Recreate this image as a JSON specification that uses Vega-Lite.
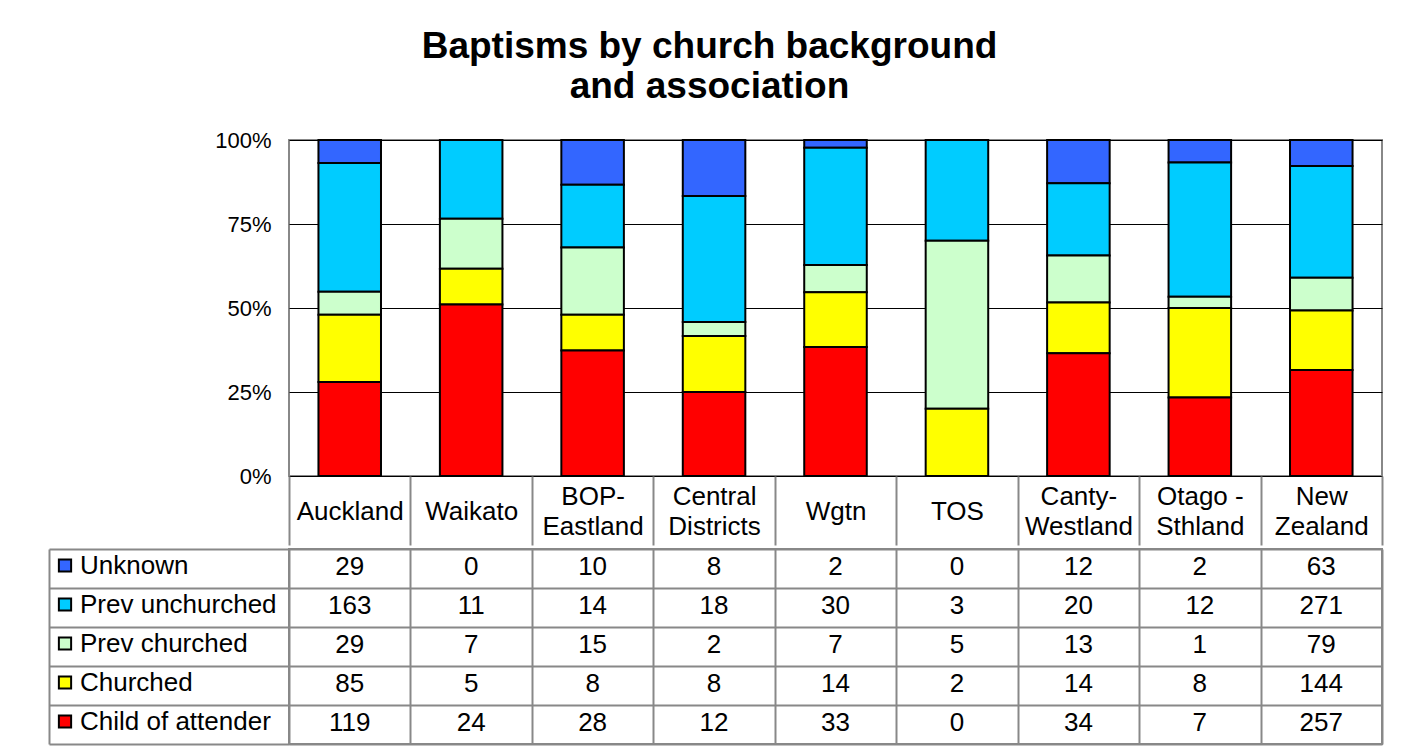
{
  "$schema": "https://vega.github.io/schema/vega-lite/v6.json",
  "padding": {"top": 28, "left": 47, "right": 30, "bottom": 8},
  "background": "white",
  "spacing": 0,
  "config": {
    "font": "Liberation Sans",
    "view": {"stroke": "#888888", "strokeWidth": 2}
  },
  "title": {
    "text": ["Baptisms by church background", "and association"],
    "fontSize": 37,
    "fontWeight": "bold",
    "lineHeight": 40,
    "anchor": "middle",
    "color": "black",
    "offset": 22,
    "dx": -6
  },
  "datasets": {
    "baptisms": [
      {"region": "Auckland", "series": "Unknown", "count": 29},
      {"region": "Auckland", "series": "Prev unchurched", "count": 163},
      {"region": "Auckland", "series": "Prev churched", "count": 29},
      {"region": "Auckland", "series": "Churched", "count": 85},
      {"region": "Auckland", "series": "Child of attender", "count": 119},
      {"region": "Waikato", "series": "Unknown", "count": 0},
      {"region": "Waikato", "series": "Prev unchurched", "count": 11},
      {"region": "Waikato", "series": "Prev churched", "count": 7},
      {"region": "Waikato", "series": "Churched", "count": 5},
      {"region": "Waikato", "series": "Child of attender", "count": 24},
      {"region": "BOP-Eastland", "series": "Unknown", "count": 10},
      {"region": "BOP-Eastland", "series": "Prev unchurched", "count": 14},
      {"region": "BOP-Eastland", "series": "Prev churched", "count": 15},
      {"region": "BOP-Eastland", "series": "Churched", "count": 8},
      {"region": "BOP-Eastland", "series": "Child of attender", "count": 28},
      {"region": "Central Districts", "series": "Unknown", "count": 8},
      {"region": "Central Districts", "series": "Prev unchurched", "count": 18},
      {"region": "Central Districts", "series": "Prev churched", "count": 2},
      {"region": "Central Districts", "series": "Churched", "count": 8},
      {"region": "Central Districts", "series": "Child of attender", "count": 12},
      {"region": "Wgtn", "series": "Unknown", "count": 2},
      {"region": "Wgtn", "series": "Prev unchurched", "count": 30},
      {"region": "Wgtn", "series": "Prev churched", "count": 7},
      {"region": "Wgtn", "series": "Churched", "count": 14},
      {"region": "Wgtn", "series": "Child of attender", "count": 33},
      {"region": "TOS", "series": "Unknown", "count": 0},
      {"region": "TOS", "series": "Prev unchurched", "count": 3},
      {"region": "TOS", "series": "Prev churched", "count": 5},
      {"region": "TOS", "series": "Churched", "count": 2},
      {"region": "TOS", "series": "Child of attender", "count": 0},
      {"region": "Canty-Westland", "series": "Unknown", "count": 12},
      {"region": "Canty-Westland", "series": "Prev unchurched", "count": 20},
      {"region": "Canty-Westland", "series": "Prev churched", "count": 13},
      {"region": "Canty-Westland", "series": "Churched", "count": 14},
      {"region": "Canty-Westland", "series": "Child of attender", "count": 34},
      {"region": "Otago - Sthland", "series": "Unknown", "count": 2},
      {"region": "Otago - Sthland", "series": "Prev unchurched", "count": 12},
      {"region": "Otago - Sthland", "series": "Prev churched", "count": 1},
      {"region": "Otago - Sthland", "series": "Churched", "count": 8},
      {"region": "Otago - Sthland", "series": "Child of attender", "count": 7},
      {"region": "New Zealand", "series": "Unknown", "count": 63},
      {"region": "New Zealand", "series": "Prev unchurched", "count": 271},
      {"region": "New Zealand", "series": "Prev churched", "count": 79},
      {"region": "New Zealand", "series": "Churched", "count": 144},
      {"region": "New Zealand", "series": "Child of attender", "count": 257}
    ]
  },
  "vconcat": [
    {
      "width": 1093,
      "height": 336,
      "data": {"name": "baptisms"},
      "mark": {"type": "bar", "stroke": "black", "strokeWidth": 2, "width": {"band": 0.515}},
      "encoding": {
        "x": {
          "field": "region",
          "type": "nominal",
          "sort": ["Auckland", "Waikato", "BOP-Eastland", "Central Districts", "Wgtn", "TOS", "Canty-Westland", "Otago - Sthland", "New Zealand"],
          "scale": {"paddingInner": 0, "paddingOuter": 0},
          "axis": {
            "title": null,
            "orient": "bottom",
            "domain": false,
            "ticks": true,
            "tickBand": "extent",
            "tickSize": 69,
            "tickColor": "#888888",
            "tickWidth": 2,
            "labelAngle": 0,
            "labelFontSize": 26,
            "labelColor": "black",
            "labelBaseline": "middle",
            "labelLineHeight": 30,
            "labelPadding": {"condition": {"test": "test(/[- ]/, datum.value)", "value": -49}, "value": -34},
            "labelOverlap": false,
            "labelBound": false,
            "labelLimit": 0,
            "labelExpr": "split(replace(replace(datum.label, /(-) ?/, '$1|'), / (?=[A-Z])/, '|'), '|')"
          }
        },
        "y": {
          "field": "count",
          "type": "quantitative",
          "stack": "normalize",
          "scale": {"domain": [0, 1], "nice": false},
          "axis": {
            "title": null,
            "values": [0, 0.25, 0.5, 0.75, 1],
            "format": ".0%",
            "labelFontSize": 22,
            "labelColor": "black",
            "ticks": false,
            "labelPadding": 18,
            "domain": false,
            "grid": true,
            "gridColor": "black",
            "gridWidth": 1
          }
        },
        "color": {
          "field": "series",
          "type": "nominal",
          "scale": {
            "domain": ["Unknown", "Prev unchurched", "Prev churched", "Churched", "Child of attender"],
            "range": ["#3366FF", "#00CCFF", "#CCFFCC", "#FFFF00", "#FF0000"]
          },
          "legend": {
            "title": null,
            "orient": "none",
            "legendX": -237,
            "legendY": 406,
            "symbolType": "square",
            "symbolSize": 150,
            "symbolStrokeColor": "black",
            "symbolStrokeWidth": 2,
            "symbolOpacity": 1,
            "labelFontSize": 26,
            "labelColor": "black",
            "labelOffset": 2,
            "labelLimit": 0,
            "rowPadding": 0,
            "clipHeight": 39,
            "padding": 0
          }
        },
        "order": {"field": "series", "sort": "ascending"}
      }
    },
    {
      "width": 1093,
      "height": 195,
      "data": {"name": "baptisms"},
      "mark": {"type": "text", "fontSize": 26, "color": "black", "baseline": "middle", "dy": -2},
      "encoding": {
        "x": {
          "field": "region",
          "type": "nominal",
          "sort": ["Auckland", "Waikato", "BOP-Eastland", "Central Districts", "Wgtn", "TOS", "Canty-Westland", "Otago - Sthland", "New Zealand"],
          "scale": {"paddingInner": 0, "paddingOuter": 0},
          "axis": {
            "title": null,
            "orient": "top",
            "labels": false,
            "ticks": false,
            "domain": false,
            "grid": true,
            "tickBand": "extent",
            "gridColor": "#888888",
            "gridWidth": 2
          }
        },
        "y": {
          "field": "series",
          "type": "nominal",
          "sort": ["Unknown", "Prev unchurched", "Prev churched", "Churched", "Child of attender"],
          "scale": {"paddingInner": 0, "paddingOuter": 0},
          "axis": {
            "title": null,
            "orient": "left",
            "offset": 240,
            "labels": false,
            "domain": true,
            "domainColor": "#888888",
            "domainWidth": 2,
            "ticks": true,
            "tickSize": -240,
            "tickBand": "extent",
            "tickColor": "#888888",
            "tickWidth": 2,
            "grid": true,
            "gridColor": "#888888",
            "gridWidth": 2
          }
        },
        "text": {"field": "count", "type": "quantitative"}
      }
    }
  ]
}
